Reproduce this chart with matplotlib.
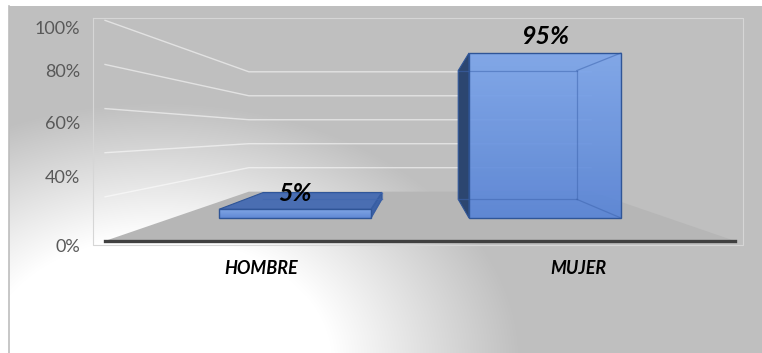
import numpy as np
import matplotlib
matplotlib.use("Agg")
from matplotlib import pyplot as plt
from matplotlib.patches import Polygon

categories = ["HOMBRE", "MUJER"]
values = [5, 95]
value_labels = ["5%", "95%"]
grid_levels = [0, 20, 40, 60, 80, 100]
tick_values = [0, 40, 60, 80, 100]
tick_labels = ["0%", "40%", "60%", "80%", "100%"]

# perspective set-up (pixel space of the picture)
W, H = 762, 353
VX, VY = 420, 133          # vanishing point
Y0, YS = 85, 1.737         # floor level and px per percent at depth k=1
SPACING, HALF = 250, 76    # category spacing, half bar width
K_FRONT, K_BACK = 1.0, 0.78
K_FLOOR_F, K_FLOOR_B = 1.27, 0.69
WALL_X = 248

def proj(X, h, k):
    return VX + k * X, VY + k * (Y0 - YS * h)

fig = plt.figure(figsize=(W / 100, H / 100), dpi=100)
ax = fig.add_axes([0, 0, 1, 1])
ax.set_xlim(0, W)
ax.set_ylim(H, 0)
ax.axis("off")

# background gradient
gx, gy = np.meshgrid(np.arange(W), np.arange(H))
d = np.hypot((gx - 150) / 420, (gy - 360) / 300)
t = np.clip((d - 0.42) / 0.45, 0, 1)
bg = 1.0 + (0.752 - 1.0) * t
img = np.dstack([bg, bg, bg])
ax.imshow(img, extent=(9, W, H, 6), zorder=0, interpolation="bilinear")
ax.plot([9, 9], [6, H], color="#bdbdbd", lw=1.2, zorder=1)
ax.plot([93, 743, 743, 93, 93], [18, 18, 245, 245, 18], color="#d6d6d6", lw=0.8, zorder=1)

# floor
floor = [proj(-WALL_X, 0, K_FLOOR_F), proj(-WALL_X, 0, K_FLOOR_B),
         proj(WALL_X, 0, K_FLOOR_B), proj(WALL_X, 0, K_FLOOR_F)]
ax.add_patch(Polygon(floor, closed=True, fc="#b6b6b6", ec="none", zorder=2))

# gridlines on the left wall and back wall
for g in grid_levels[1:]:
    a = proj(-WALL_X, g, K_FLOOR_F)
    b = proj(-WALL_X, g, K_FLOOR_B)
    c = proj(WALL_X, g, K_FLOOR_B)
    ax.plot([a[0], b[0], c[0]], [a[1], b[1], c[1]], color="white", lw=1.0, alpha=0.55, zorder=3)

# bars
def face(pts, color, z, alpha=1.0):
    ax.add_patch(Polygon(pts, closed=True, fc=color, ec="#2f5597", lw=0.8, alpha=alpha, zorder=z))

for i, (cat, v) in enumerate(zip(categories, values)):
    xc = (i - 0.5) * SPACING
    x0, x1 = xc - HALF, xc + HALF
    fb = [proj(x0, 0, K_FRONT), proj(x1, 0, K_FRONT), proj(x1, v, K_FRONT), proj(x0, v, K_FRONT)]
    bb = [proj(x0, 0, K_BACK), proj(x1, 0, K_BACK), proj(x1, v, K_BACK), proj(x0, v, K_BACK)]
    # side / top faces that can be seen
    if x0 > 0:
        face([fb[3], bb[3], bb[0], fb[0]], "#2c4670", 5)
    if x1 < 0:
        face([fb[2], bb[2], bb[1], fb[1]], "#3d62a6", 5)
    if Y0 - YS * v > 0:
        face([fb[3], fb[2], bb[2], bb[3]], "#4a6eb2", 5)
    # front face with vertical gradient
    poly = Polygon(fb, closed=True, fc="none", ec="#2f5597", lw=1.0, zorder=7)
    ax.add_patch(poly)
    grad = np.linspace(0, 1, 100)[:, None]
    top_c = np.array([0.49, 0.65, 0.92])
    bot_c = np.array([0.35, 0.52, 0.84])
    gimg = top_c + (bot_c - top_c) * grad[..., None]
    gimg = np.repeat(gimg, 2, axis=1)
    im = ax.imshow(gimg, extent=(fb[0][0], fb[1][0], fb[0][1], fb[2][1]),
                   zorder=6, alpha=0.93, interpolation="bilinear", aspect="auto")
    im.set_clip_path(Polygon(fb, closed=True, transform=ax.transData))
    # hidden edges seen through the translucent front
    hidden = [(bb[0], bb[1]), (bb[1], bb[2]), (bb[2], bb[3]), (bb[1], fb[1]), (bb[2], fb[2])]
    for p, q in hidden:
        ax.plot([p[0], q[0]], [p[1], q[1]], color="#3f66b0", lw=0.9, alpha=0.55, zorder=6.5)
    lx, ly = proj(xc, v, K_FRONT)
    ax.text(lx, ly - 16, value_labels[i], ha="center", va="center", fontsize=18,
            fontweight="bold", fontstyle="italic", family="Lato", color="black", zorder=9)
    cx, cy = proj(xc, 0, K_FLOOR_F)
    ax.text(cx, cy + 28, cat, ha="center", va="center", fontsize=13,
            fontweight="bold", fontstyle="italic", family="Lato", color="black", zorder=9)

# floor front edge
a = proj(-WALL_X, 0, K_FLOOR_F)
b = proj(WALL_X, 0, K_FLOOR_F)
ax.plot([a[0], b[0]], [a[1], b[1]], color="#404040", lw=2.4, zorder=8)

# value axis labels
label_y = [247, 178, 124, 72, 29]
for lab, yy in zip(tick_labels, label_y):
    ax.text(80, yy, lab, ha="right", va="center", fontsize=13, family="Lato",
            fontweight="normal", color="#595959", zorder=9)

fig.savefig("out.png", dpi=100)
